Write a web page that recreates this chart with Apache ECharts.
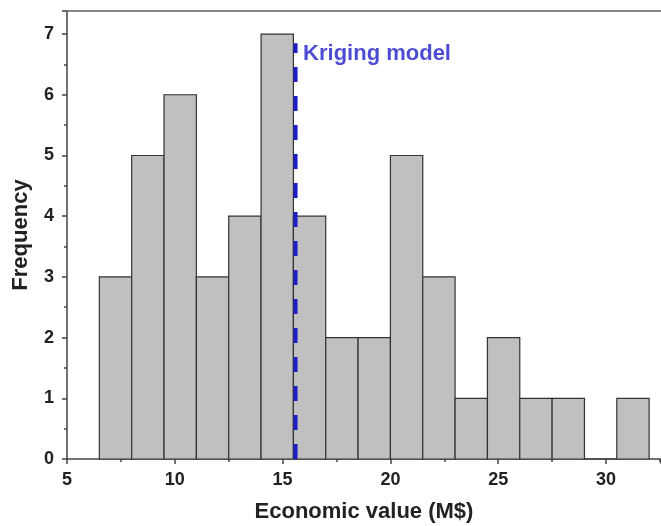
<!DOCTYPE html>
<html>
<head>
<meta charset="utf-8">
<script src="https://cdn.jsdelivr.net/npm/echarts@6/dist/echarts.min.js"></script>
<style>
html,body{margin:0;padding:0;background:#fff;}
#chart{width:661px;height:526px;}
</style>
</head>
<body>
<div id="chart"></div>
<script>
// Histogram bin edges and counts
const binEdges = [6.5, 8, 9.5, 11, 12.5, 14, 15.5, 17, 18.5, 20, 21.5, 23, 24.5, 26, 27.5, 29, 30.5, 32];
const counts   = [3, 5, 6, 3, 4, 7, 4, 2, 2, 5, 3, 1, 2, 1, 1, 0, 1];
// Kriging model reference value
const krigingValue = 15.6;
const krigingTop = 6.85;
const krigingLabel = 'Kriging model';
const xTitle = 'Economic value (M$)';
const yTitle = 'Frequency';

const histData = counts.map((c, i) => [binEdges[i], binEdges[i + 1], c]);

const chart = echarts.init(document.getElementById('chart'), null, {renderer: 'canvas'});
const FONT = 'Liberation Sans, Arial, sans-serif';
const axisColor = '#444';
const blue = '#1e1ec8';

chart.setOption({
  animation: false,
  backgroundColor: '#fff',
  grid: {left: 67, right: 0, top: 11, bottom: 67, containLabel: false, outerBoundsMode: 'none'},
  xAxis: [{
    type: 'value', min: 5, max: 32.55, interval: 5,
    name: xTitle, nameLocation: 'middle', nameGap: 42,
    nameTextStyle: {fontFamily: FONT, fontWeight: 'bold', fontSize: 22, color: '#222'},
    axisLine: {show: true, onZero: false, lineStyle: {color: axisColor, width: 1.5}},
    axisTick: {show: true, inside: false, length: 5, lineStyle: {color: axisColor, width: 1.5}},
    minorTick: {show: true, splitNumber: 2, length: 3, lineStyle: {color: axisColor, width: 1.5}},
    splitLine: {show: false},
    axisLabel: {
      fontFamily: FONT, fontWeight: 'bold', fontSize: 18, color: '#222', margin: 12,
      showMaxLabel: false,
      formatter: v => (Math.abs(v % 5) < 1e-6 ? String(v) : '')
    }
  }, {
    type: 'value', min: 5, max: 32.55, position: 'top',
    axisLine: {show: true, onZero: false, lineStyle: {color: '#888', width: 2}},
    axisTick: {show: false}, axisLabel: {show: false}, splitLine: {show: false}
  }],
  yAxis: {
    type: 'value', min: 0, max: 7.38, interval: 1,
    name: yTitle, nameLocation: 'middle', nameGap: 35, nameRotate: 90,
    nameTextStyle: {fontFamily: FONT, fontWeight: 'bold', fontSize: 22, color: '#222'},
    axisLine: {show: true, onZero: false, lineStyle: {color: axisColor, width: 1.5}},
    axisTick: {show: true, inside: false, length: 5, lineStyle: {color: axisColor, width: 1.5}},
    minorTick: {show: true, splitNumber: 2, length: 3, lineStyle: {color: axisColor, width: 1.5}},
    splitLine: {show: false},
    axisLabel: {
      fontFamily: FONT, fontWeight: 'bold', fontSize: 18, color: '#222', margin: 13,
      showMaxLabel: false,
      formatter: v => (Number.isInteger(v) ? String(v) : '')
    }
  },
  series: [{
    type: 'custom',
    data: histData,
    encode: {x: [0, 1], y: 2},
    z: 2,
    renderItem: function (params, api) {
      const p0 = api.coord([api.value(0), api.value(2)]);
      const p1 = api.coord([api.value(1), 0]);
      return {
        type: 'rect',
        shape: {x: p0[0], y: p0[1], width: p1[0] - p0[0], height: p1[1] - p0[1]},
        style: {fill: '#c0c0c0', stroke: '#333', lineWidth: 1.2}
      };
    }
  }, {
    type: 'line',
    data: [[krigingValue, 0], [krigingValue, krigingTop]],
    symbol: 'none',
    z: 5,
    lineStyle: {color: blue, width: 4, type: [15, 14]}
  }, {
    type: 'scatter',
    data: [[krigingValue + 0.35, 6.67]],
    symbolSize: 0,
    z: 6,
    label: {
      show: true, position: 'right', distance: 0,
      formatter: krigingLabel,
      fontFamily: FONT, fontWeight: 'bold', fontSize: 22, color: blue
    }
  }]
});
</script>
</body>
</html>
